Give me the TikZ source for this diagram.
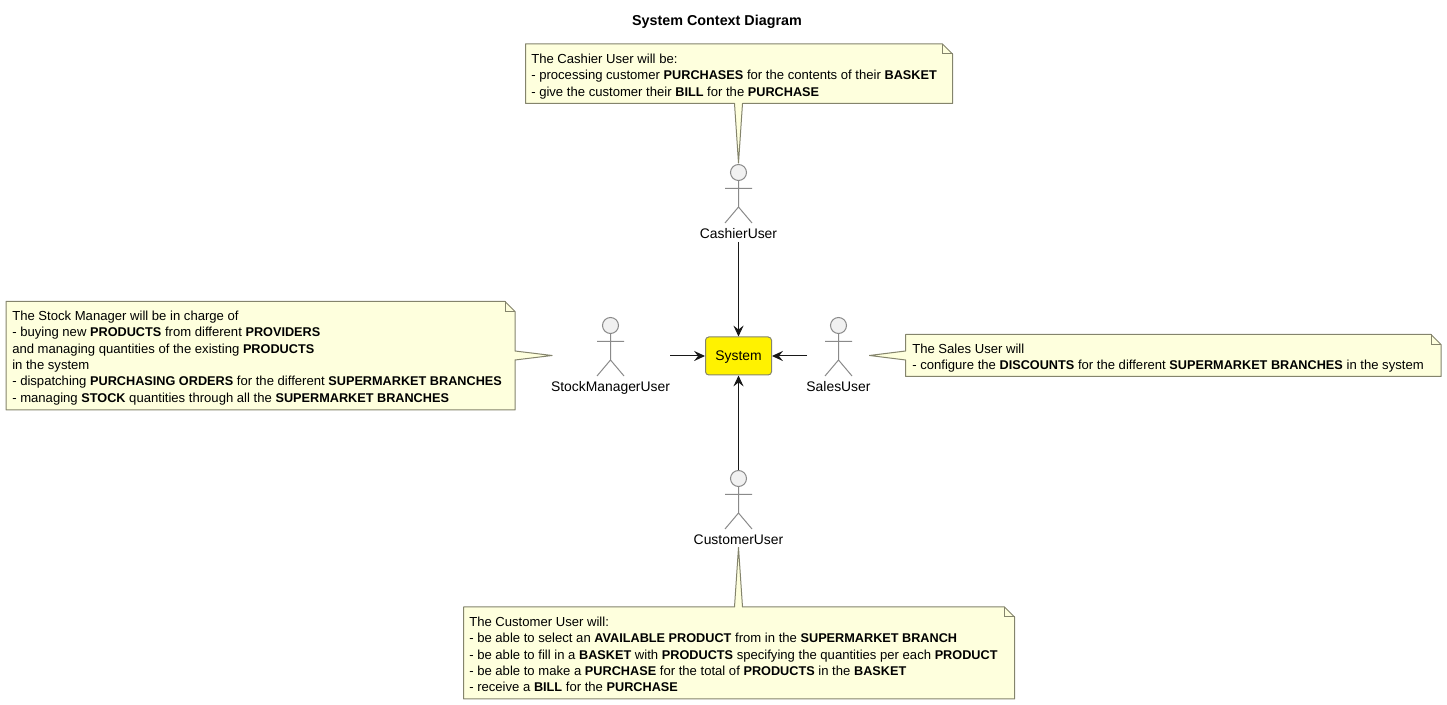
\documentclass[tikz,border=0pt]{standalone}
\usepackage{fontspec}
\setmainfont{Liberation Sans}
\usetikzlibrary{arrows.meta}
\definecolor{notefill}{HTML}{FEFFDD}
\definecolor{noteline}{HTML}{84846C}
\definecolor{actorline}{HTML}{8A8A8A}
\definecolor{actorfill}{HTML}{F1F1F1}
\definecolor{ink}{HTML}{181818}
\tikzset{
  x=0.75pt,y=-0.75pt,
  notebody/.style={draw=noteline,fill=notefill,line width=0.75pt,line join=round},
  notefold/.style={draw=noteline,line width=0.75pt},
  notetext/.style={anchor=north west,inner sep=0pt,align=left,text=black,font=\fontsize{9.82}{12.3}\selectfont},
  actorname/.style={anchor=base,inner sep=0pt,text=black,font=\fontsize{10.42}{12}\selectfont},
  actorlimb/.style={draw=actorline,line width=0.75pt},
  actorhead/.style={draw=actorline,fill=actorfill,line width=0.75pt},
  flow/.style={draw=ink,line width=0.75pt,-{Stealth[length=8.2pt,width=7.6pt,inset=3pt]}},
}
\newcommand{\actorfig}[2]{%
  \draw[actorhead] (#1,#2) circle[radius=6pt];
  \draw[actorlimb] (#1,#2+8) -- (#1,#2+34.5)
    (#1-13.5,#2+16) -- (#1+13.5,#2+16)
    (#1-13.5,#2+50.5) -- (#1,#2+34.5) -- (#1+13.5,#2+50.5);
}
\newcommand{\bb}[1]{{\fontsize{9.52}{12.3}\selectfont\bfseries #1}}
\begin{document}
\begin{tikzpicture}
\useasboundingbox (0,0) rectangle (1447,705);
\node[anchor=base,inner sep=0pt,font=\fontsize{10.75}{12}\selectfont\bfseries] (title) at (717,25.5) {System Context Diagram};

% Cashier note
\draw[notebody] (525.5,44) -- (942.5,44) -- (952.5,54) -- (952.5,103.5) -- (742.5,103.5) -- (738.5,163) -- (734.5,103.5) -- (525.5,103.5) -- cycle;
\draw[notefold] (942.5,44) -- (942.5,54) -- (952.5,54);
\node[notetext] (cashiernote) at (531,53.5) {The Cashier User will be:\\- processing customer \bb{PURCHASES} for the contents of their \bb{BASKET}\\- give the customer their \bb{BILL} for the \bb{PURCHASE}};

% Stock note
\draw[notebody] (6,301.5) -- (505,301.5) -- (515,311.5) -- (515,351) -- (552,355.5) -- (515,360) -- (515,410) -- (6,410) -- cycle;
\draw[notefold] (505,301.5) -- (505,311.5) -- (515,311.5);
\node[notetext] (stocknote) at (12,310.5) {The Stock Manager will be in charge of\\- buying new \bb{PRODUCTS} from different \bb{PROVIDERS}\\and managing quantities of the existing \bb{PRODUCTS}\\in the system\\- dispatching \bb{PURCHASING ORDERS} for the different \bb{SUPERMARKET BRANCHES}\\- managing \bb{STOCK} quantities through all the \bb{SUPERMARKET BRANCHES}};

% Sales note
\draw[notebody] (905.5,334.5) -- (1431,334.5) -- (1441,344.5) -- (1441,376.5) -- (905.5,376.5) -- (905.5,360) -- (869.5,355.5) -- (905.5,351) -- cycle;
\draw[notefold] (1431,334.5) -- (1431,344.5) -- (1441,344.5);
\node[notetext] (salesnote) at (912,343.5) {The Sales User will\\- configure the \bb{DISCOUNTS} for the different \bb{SUPERMARKET BRANCHES} in the system};

% Customer note
\draw[notebody] (463.5,607) -- (734.5,607) -- (738.5,547.5) -- (742.5,607) -- (1004.5,607) -- (1014.5,617) -- (1014.5,699) -- (463.5,699) -- cycle;
\draw[notefold] (1004.5,607) -- (1004.5,617) -- (1014.5,617);
\node[notetext] (customernote) at (469,616.5) {The Customer User will:\\- be able to select an \bb{AVAILABLE PRODUCT} from in the \bb{SUPERMARKET BRANCH}\\- be able to fill in a \bb{BASKET} with \bb{PRODUCTS} specifying the quantities per each \bb{PRODUCT}\\- be able to make a \bb{PURCHASE} for the total of \bb{PRODUCTS} in the \bb{BASKET}\\- receive a \bb{BILL} for the \bb{PURCHASE}};

% Actors
\actorfig{738.5}{172.5}
\actorfig{610.5}{325.5}
\actorfig{838.5}{325.5}
\actorfig{738.5}{478.5}
\node[actorname] (cashier) at (738.5,238.5) {CashierUser};
\node[actorname] (stock) at (610.5,391.5) {StockManagerUser};
\node[actorname] (sales) at (838.5,391.5) {SalesUser};
\node[actorname] (customer) at (738.5,544.5) {CustomerUser};

% System
\node[draw=noteline,fill=yellow,line width=0.75pt,rounded corners=2.5pt,minimum width=49.5pt,minimum height=28.5pt,inner sep=0pt,text depth=0pt,text=black,font=\fontsize{10.42}{12}\selectfont] (system) at (738.5,356) {System};

% Connectors
\coordinate (cashierout) at (738.5,242);
\coordinate (customerout) at (738.5,470);
\coordinate (stockout) at (670,356);
\coordinate (salesout) at (807,356);
\draw[flow] (cashierout) -- (system.north);
\draw[flow] (customerout) -- (system.south);
\draw[flow] (stockout) -- (system.west);
\draw[flow] (salesout) -- (system.east);
\end{tikzpicture}
\end{document}
